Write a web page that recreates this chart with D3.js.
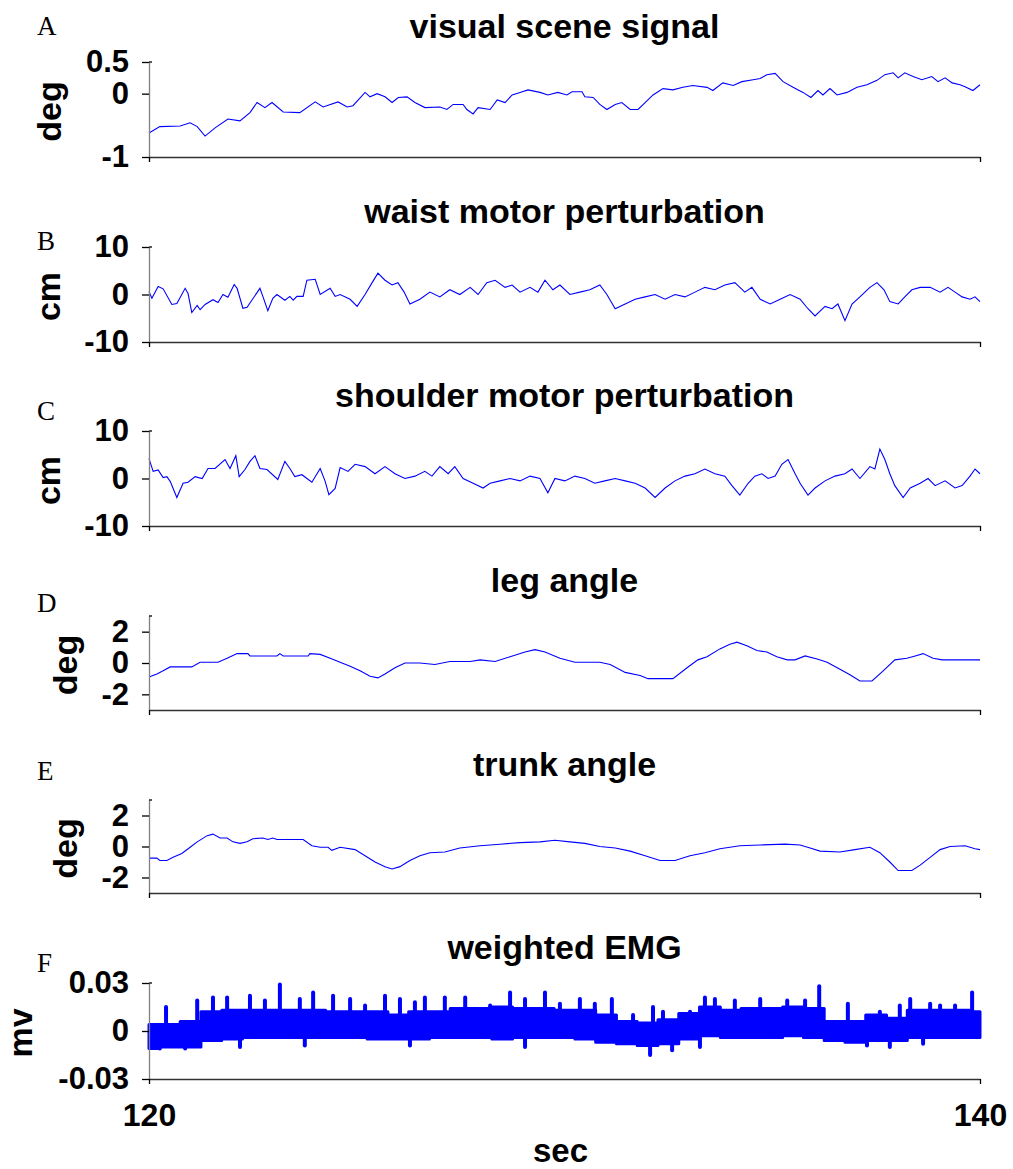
<!DOCTYPE html>
<html>
<head>
<meta charset="utf-8">
<script src="https://cdn.jsdelivr.net/npm/d3@7"></script>
<style>
  body { margin: 0; background: #fff; }
  text { font-family: "Liberation Sans", Arial, sans-serif; }
</style>
</head>
<body>
<div id="vis"></div>
<script>
// ---- data ----
var timeDomain = [120, 140];
var timeTicks = [120, 140];

var panelLetters = ["A", "B", "C", "D", "E", "F"];
var panelTitles = ["visual scene signal", "waist motor perturbation", "shoulder motor perturbation",
                   "leg angle", "trunk angle", "weighted EMG"];
var panelUnits = ["deg", "cm", "cm", "deg", "deg", "mv"];
var panelDomains = [[-1, 0.5], [-10, 10], [-10, 10], [-3, 3], [-3, 3], [-0.03, 0.03]];
var panelTicks = [[-1, 0, 0.5], [-10, 0, 10], [-10, 0, 10], [-2, 0, 2], [-2, 0, 2], [-0.03, 0, 0.03]];

// [sec, deg]
var visualScene = [
  [120.00,-0.62],[120.26,-0.52],[120.75,-0.51],[120.99,-0.46],[121.16,-0.52],[121.35,-0.67],
  [121.59,-0.54],[121.90,-0.40],[122.19,-0.43],[122.43,-0.30],[122.60,-0.14],[122.79,-0.22],
  [122.96,-0.14],[123.23,-0.29],[123.63,-0.30],[124.00,-0.13],[124.19,-0.21],[124.55,-0.13],
  [124.77,-0.21],[124.91,-0.19],[125.20,0.02],[125.32,-0.05],[125.49,0.00],[125.68,-0.05],
  [125.85,-0.14],[126.00,-0.06],[126.21,-0.05],[126.40,-0.14],[126.64,-0.22],[127.00,-0.21],
  [127.17,-0.25],[127.32,-0.17],[127.56,-0.17],[127.65,-0.25],[127.80,-0.32],[127.92,-0.22],
  [128.21,-0.25],[128.38,-0.10],[128.57,-0.14],[128.74,-0.02],[128.93,0.02],[129.12,0.06],
  [129.41,0.02],[129.60,-0.02],[129.84,0.02],[130.06,-0.02],[130.18,0.03],[130.42,0.03],
  [130.49,-0.05],[130.69,-0.06],[130.85,-0.17],[131.02,-0.25],[131.22,-0.17],[131.38,-0.14],
  [131.58,-0.25],[131.77,-0.25],[131.94,-0.14],[132.13,-0.02],[132.37,0.08],[132.61,0.06],
  [132.85,0.10],[133.09,0.13],[133.43,0.10],[133.57,0.05],[133.81,0.17],[134.06,0.13],
  [134.27,0.19],[134.54,0.22],[134.71,0.24],[134.87,0.30],[135.07,0.32],[135.26,0.19],
  [135.50,0.10],[135.74,0.02],[135.93,-0.06],[136.10,0.05],[136.22,-0.02],[136.39,0.08],
  [136.56,-0.02],[136.80,0.02],[137.04,0.10],[137.28,0.14],[137.52,0.21],[137.71,0.30],
  [137.91,0.33],[138.03,0.25],[138.19,0.33],[138.39,0.27],[138.60,0.22],[138.84,0.27],
  [138.99,0.19],[139.16,0.25],[139.33,0.17],[139.52,0.14],[139.64,0.11],[139.83,0.05],[140.00,0.14]
];

// [sec, cm]
var waistMotor = [
  [120.00,0.6],[120.07,-0.8],[120.22,1.7],[120.34,1.2],[120.55,-2.1],[120.67,-1.9],[120.87,1.3],
  [120.94,0.2],[121.03,-3.8],[121.16,-2.3],[121.23,-3.2],[121.35,-2.1],[121.54,-1.1],[121.66,-1.7],
  [121.78,0],[121.90,-0.6],[122.05,2.1],[122.12,1.3],[122.26,-2.9],[122.36,-2.7],[122.67,1.3],
  [122.74,-0.4],[122.86,-3.4],[122.98,-0.8],[123.08,0],[123.27,-1.2],[123.39,-0.4],[123.47,-1.2],
  [123.56,-0.4],[123.71,-0.4],[123.80,3.0],[124.00,3.2],[124.12,0],[124.36,1.3],[124.48,-0.4],
  [124.60,0],[124.84,-1],[125.01,-2.5],[125.20,0],[125.37,2.5],[125.51,4.5],[125.68,3],
  [125.85,2],[125.99,2.5],[126.14,0.5],[126.28,-2],[126.52,-1],[126.76,0.5],[127.00,-0.5],
  [127.24,1],[127.48,0],[127.73,1.5],[127.92,0],[128.13,2.5],[128.33,3],[128.57,1.5],[128.74,2],
  [128.93,0.5],[129.17,1.5],[129.36,0.5],[129.53,3],[129.72,1],[129.89,2],[130.13,0],[130.37,0.5],
  [130.61,1],[130.85,2],[131.02,0],[131.22,-3],[131.46,-2],[131.70,-1],[131.94,-0.5],[132.18,0],
  [132.42,-1],[132.66,0],[132.90,-0.5],[133.14,0.5],[133.38,1.5],[133.62,1],[133.86,2],[134.10,2.5],
  [134.34,0.5],[134.51,1.5],[134.71,-1],[134.95,-2],[135.19,-1],[135.43,0],[135.67,-1],[135.86,-3],
  [136.03,-4.5],[136.27,-2.5],[136.44,-3],[136.58,-2],[136.75,-5.5],[136.92,-2],[137.11,-0.5],
  [137.35,1.5],[137.52,2.5],[137.69,1],[137.83,-1.5],[138.03,-2],[138.19,-0.5],[138.36,1],
  [138.56,1.5],[138.80,1.5],[139.04,0.5],[139.23,1.5],[139.40,0.5],[139.57,-0.5],[139.76,-1],
  [139.88,-0.5],[140.00,-1.5]
];

// [sec, cm]
var shoulderMotor = [
  [120.00,4.2],[120.10,1.5],[120.22,1.8],[120.34,0.2],[120.43,0.4],[120.51,-0.6],[120.67,-4],
  [120.82,-1],[120.94,-0.8],[121.11,0.4],[121.28,0],[121.42,2.1],[121.59,2.1],[121.83,4],
  [121.95,2.1],[122.09,4.8],[122.17,0.4],[122.31,1.9],[122.43,3.6],[122.55,4.8],[122.67,2.1],
  [122.84,1.9],[123.10,-0.2],[123.27,3.6],[123.39,2.1],[123.51,0.4],[123.68,0.8],[123.92,-0.8],
  [124.12,2.1],[124.24,-0.6],[124.33,-3.4],[124.48,-2.1],[124.60,2.3],[124.79,1.5],[124.96,3],
  [125.20,2.5],[125.44,1],[125.68,2.5],[125.92,1],[126.16,0],[126.40,0.5],[126.64,1.5],
  [126.81,0.5],[127.00,2.5],[127.20,1],[127.36,2.5],[127.56,0],[127.80,-1],[128.04,-2],
  [128.21,-1],[128.45,-0.5],[128.69,0],[128.93,-0.5],[129.17,0.5],[129.41,0],[129.60,-3],
  [129.77,0],[130.01,-0.5],[130.25,0.5],[130.49,0],[130.73,-1],[130.97,-0.5],[131.22,0],
  [131.46,-0.5],[131.70,-1],[131.94,-2],[132.18,-4],[132.42,-2],[132.66,-0.5],[132.90,0.5],
  [133.14,1],[133.38,2],[133.62,1],[133.86,0.5],[134.03,-1.5],[134.22,-3.5],[134.42,-1],
  [134.58,0.5],[134.75,1],[134.90,0],[135.07,0.5],[135.23,3],[135.38,4],[135.55,1],[135.67,-1],
  [135.86,-3.5],[136.03,-2],[136.27,-0.5],[136.51,0.5],[136.75,1],[136.92,2],[137.11,0],
  [137.35,2.5],[137.47,2],[137.59,6.2],[137.71,4],[137.83,1],[137.95,-1.5],[138.15,-4],
  [138.32,-2],[138.56,-1],[138.75,0],[138.92,-1.5],[139.16,-0.5],[139.40,-2],[139.57,-1.5],
  [139.76,0.5],[139.88,2],[140.00,1]
];

// [sec, deg]
var legAngle = [
  [120.00,-0.9],[120.19,-0.7],[120.34,-0.5],[120.51,-0.25],[121.03,-0.25],[121.23,0.05],
  [121.66,0.05],[121.88,0.3],[122.12,0.6],[122.38,0.6],[122.43,0.45],[123.08,0.45],[123.15,0.6],
  [123.23,0.45],[123.83,0.45],[123.87,0.6],[124.12,0.55],[124.36,0.3],[124.60,0.05],[124.84,-0.2],
  [125.08,-0.5],[125.32,-0.85],[125.51,-0.95],[125.68,-0.7],[125.92,-0.3],[126.16,0],[126.52,0],
  [126.88,-0.1],[127.24,0.1],[127.73,0.1],[127.97,0.2],[128.33,0.1],[128.69,0.4],[129.05,0.7],
  [129.29,0.85],[129.53,0.7],[129.89,0.3],[130.25,0.05],[130.85,0.05],[131.10,-0.1],[131.46,-0.6],
  [131.82,-0.8],[132.01,-1.0],[132.61,-1.0],[132.95,-0.3],[133.21,0.2],[133.43,0.4],[133.74,0.9],
  [133.98,1.2],[134.15,1.33],[134.39,1.1],[134.63,0.8],[134.87,0.7],[135.11,0.4],[135.36,0.2],
  [135.55,0.2],[135.79,0.45],[136.08,0.25],[136.32,0.05],[136.63,-0.4],[136.87,-0.75],
  [137.11,-1.15],[137.40,-1.15],[137.67,-0.5],[137.95,0.2],[138.24,0.3],[138.44,0.45],
  [138.63,0.6],[138.87,0.3],[139.09,0.2],[140.00,0.2]
];

// [sec, deg]
var trunkAngle = [
  [120.00,-0.75],[120.19,-0.75],[120.26,-0.9],[120.43,-0.9],[120.58,-0.7],[120.79,-0.45],
  [120.99,-0.05],[121.16,0.3],[121.40,0.7],[121.54,0.8],[121.71,0.55],[121.88,0.55],[122.02,0.3],
  [122.19,0.2],[122.36,0.3],[122.50,0.5],[122.74,0.55],[122.86,0.45],[122.98,0.55],[123.08,0.45],
  [123.71,0.45],[123.92,0.05],[124.12,-0.05],[124.31,-0.05],[124.40,-0.25],[124.60,-0.05],
  [124.96,-0.2],[125.20,-0.6],[125.44,-1.0],[125.68,-1.3],[125.85,-1.45],[126.04,-1.3],
  [126.28,-0.9],[126.52,-0.6],[126.76,-0.4],[127.12,-0.35],[127.48,-0.1],[127.97,0.05],
  [128.45,0.15],[128.93,0.25],[129.41,0.3],[129.77,0.4],[130.13,0.3],[130.49,0.2],[130.85,0],
  [131.22,-0.1],[131.58,-0.3],[131.94,-0.6],[132.30,-0.9],[132.66,-0.9],[133.02,-0.6],
  [133.38,-0.4],[133.74,-0.15],[134.22,0.05],[134.71,0.1],[135.31,0.15],[135.67,0.1],
  [135.91,-0.1],[136.15,-0.3],[136.63,-0.35],[136.99,-0.2],[137.35,-0.05],[137.59,-0.4],
  [137.83,-1.0],[138.03,-1.55],[138.36,-1.55],[138.56,-1.2],[138.80,-0.7],[139.04,-0.2],
  [139.28,0],[139.64,0.05],[139.88,-0.15],[140.00,-0.2]
];

// weighted EMG (mv): band envelope every 0.5 s from 120 to 140, plus spikes and dips [sec, mv]
var emgUpper = [0.004,0.004,0.006,0.012,0.013,0.013,0.013,0.013,0.013,0.012,0.012,0.012,0.010,0.012,
  0.012,0.014,0.014,0.015,0.014,0.014,0.013,0.013,0.010,0.006,0.005,0.007,0.011,0.015,0.013,0.014,
  0.014,0.015,0.014,0.006,0.006,0.010,0.008,0.013,0.013,0.013,0.012];
var emgLower = [-0.011,-0.010,-0.010,-0.006,-0.005,-0.004,-0.004,-0.004,-0.004,-0.004,-0.004,-0.005,
  -0.005,-0.005,-0.004,-0.004,-0.004,-0.005,-0.004,-0.004,-0.004,-0.005,-0.007,-0.008,-0.009,-0.008,
  -0.005,-0.003,-0.004,-0.004,-0.004,-0.003,-0.004,-0.006,-0.007,-0.006,-0.006,-0.004,-0.004,-0.004,-0.004];
var emgSpikes = [
  [120.41,0.015],[121.16,0.019],[121.54,0.021],[121.88,0.021],[122.43,0.022],[122.79,0.019],
  [123.15,0.029],[123.63,0.020],[123.95,0.024],[124.43,0.022],[124.84,0.020],[125.20,0.016],
  [125.68,0.022],[126.04,0.020],[126.40,0.018],[126.64,0.021],[127.12,0.021],[127.61,0.021],
  [128.21,0.016],[128.69,0.024],[129.05,0.020],[129.53,0.024],[129.89,0.017],[130.37,0.020],
  [130.73,0.017],[131.14,0.020],[131.65,0.010],[132.13,0.015],[132.37,0.012],[133.02,0.012],
  [133.38,0.021],[133.62,0.020],[134.10,0.019],[134.71,0.020],[135.36,0.019],[135.79,0.019],
  [136.13,0.028],[136.82,0.017],[137.59,0.012],[138.07,0.016],[138.32,0.020],[138.80,0.017],
  [139.04,0.016],[139.40,0.016],[139.81,0.024]
];
var emgDips = [
  [120.26,-0.011],[120.87,-0.011],[122.19,-0.010],[123.75,-0.009],[126.28,-0.009],[129.05,-0.010],
  [132.06,-0.015],[132.59,-0.012],[133.26,-0.010],[137.28,-0.009],[137.83,-0.010],[138.63,-0.008]
];

var panelSeries = [visualScene, waistMotor, shoulderMotor, legAngle, trunkAngle, null];

// ---- layout ----
var width = 1013, height = 1169;
var plotLeft = 149, plotRight = 980;
var panelTop = [62, 247, 431, 616, 800, 983];
var panelBottom = [157, 342, 526, 710, 893, 1079];
var letterY = [35, 250, 420, 612, 780, 972];
var unitX = [61, 60, 60, 77, 77, 32];

var svg = d3.select('#vis')
  .append('svg')
  .attr('width', width)
  .attr('height', height);

var x = d3.scaleLinear().domain(timeDomain).range([plotLeft, plotRight]);

panelTitles.forEach(function (title, i) {
  var y = d3.scaleLinear().domain(panelDomains[i]).range([panelBottom[i], panelTop[i]]);
  var g = svg.append('g');

  // letter
  g.append('text')
    .attr('x', 37).attr('y', letterY[i])
    .style('font-family', '"Liberation Serif", "Times New Roman", serif')
    .style('font-size', '27px')
    .text(panelLetters[i]);

  // title
  g.append('text')
    .attr('x', (plotLeft + plotRight) / 2).attr('y', panelTop[i] - 24)
    .attr('text-anchor', 'middle')
    .style('font-size', '34px').style('font-weight', 'bold')
    .text(title);

  // unit label
  var cy = (panelTop[i] + panelBottom[i]) / 2 + 2;
  g.append('text')
    .attr('transform', 'translate(' + unitX[i] + ',' + cy + ') rotate(-90)')
    .attr('text-anchor', 'middle')
    .style('font-size', '34px').style('font-weight', 'bold')
    .text(panelUnits[i]);

  // data
  if (panelSeries[i]) {
    var line = d3.line()
      .x(function (d) { return x(d[0]) })
      .y(function (d) { return y(d[1]) });
    g.append('path')
      .datum(panelSeries[i])
      .attr('d', line)
      .attr('fill', 'none')
      .attr('stroke', '#0000ff')
      .attr('stroke-width', 1.1);
  } else {
    var emgTimes = emgUpper.map(function (d, k) { return timeDomain[0] + k * 0.5 });
    var band = d3.area()
      .x(function (d, k) { return x(emgTimes[k]) })
      .y0(function (d, k) { return y(emgLower[k]) })
      .y1(function (d) { return y(d) })
      .curve(d3.curveStep);
    g.append('path')
      .datum(emgUpper)
      .attr('d', band)
      .attr('fill', '#0000ff')
      .attr('stroke', '#0000ff')
      .attr('stroke-width', 3)
      .attr('stroke-linejoin', 'round');
    g.selectAll('.spike')
      .data(emgSpikes.concat(emgDips))
      .enter()
      .append('line')
      .attr('x1', function (d) { return x(d[0]) })
      .attr('x2', function (d) { return x(d[0]) })
      .attr('y1', y(0))
      .attr('y2', function (d) { return y(d[1]) })
      .attr('stroke', '#0000ff')
      .attr('stroke-width', 4)
      .attr('stroke-linecap', 'round');
  }

  // y axis
  var yAxis = g.append('g')
    .attr('transform', 'translate(' + plotLeft + ',0)')
    .call(d3.axisLeft(y).tickValues(panelTicks[i]).tickSize(7).tickPadding(13).tickSizeOuter(0)
      .tickFormat(function (d) { return String(d) }));
  yAxis.select('.domain').attr('stroke', '#808080').attr('stroke-width', 1.3);
  yAxis.selectAll('.tick line').attr('stroke', '#000').attr('stroke-width', 1.3);
  yAxis.selectAll('.tick text')
    .style('font-size', '31px').style('font-weight', 'bold')
    .style('font-family', '"Liberation Sans", Arial, sans-serif')
    .attr('fill', '#000');

  // small inner stub at the top of the y axis
  g.append('line')
    .attr('x1', plotLeft).attr('x2', plotLeft + 3)
    .attr('y1', panelTop[i]).attr('y2', panelTop[i])
    .attr('stroke', '#000').attr('stroke-width', 1.3);

  // x axis
  var last = i === panelTitles.length - 1;
  var xAxis = g.append('g')
    .attr('transform', 'translate(0,' + panelBottom[i] + ')')
    .call(d3.axisBottom(x).tickValues(timeTicks).tickSize(5).tickPadding(19).tickSizeOuter(0)
      .tickFormat(function (d) { return last ? String(d) : '' }));
  xAxis.select('.domain').attr('stroke', '#333').attr('stroke-width', 1.4);
  xAxis.selectAll('.tick line').attr('stroke', '#000').attr('stroke-width', 1.3);
  xAxis.selectAll('.tick text')
    .style('font-size', '32px').style('font-weight', 'bold')
    .style('font-family', '"Liberation Sans", Arial, sans-serif')
    .attr('fill', '#000');
});

svg.append('text')
  .attr('x', (plotLeft + plotRight) / 2 - 4).attr('y', 1162)
  .attr('text-anchor', 'middle')
  .style('font-size', '33px').style('font-weight', 'bold')
  .text('sec');
</script>
</body>
</html>
